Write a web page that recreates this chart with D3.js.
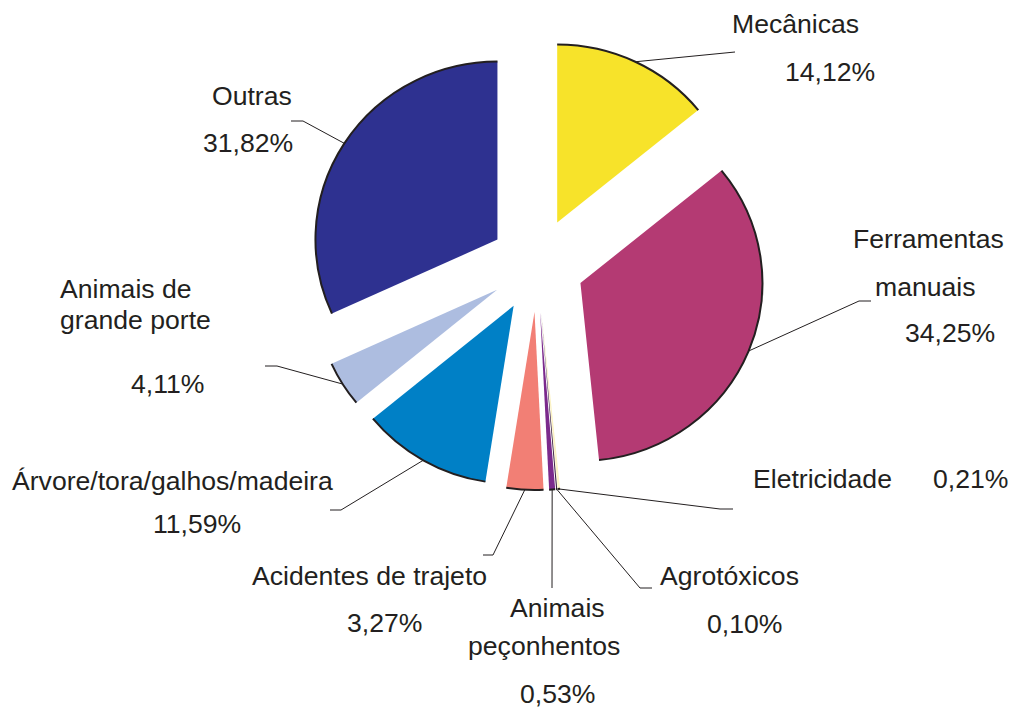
<!DOCTYPE html>
<html>
<head>
<meta charset="utf-8">
<script src="https://cdn.jsdelivr.net/npm/d3@7"></script>
<style>
  body { margin: 0; background: #fff; }
  text { font-family: "Liberation Sans", Arial, Helvetica, sans-serif; font-size: 26.6px; fill: #231f20; }
</style>
</head>
<body>
<div id="chart"></div>
<script>
// data
var categories = ["Mecânicas", "Ferramentas manuais", "Eletricidade", "Agrotóxicos",
    "Animais peçonhentos", "Acidentes de trajeto", "Árvore/tora/galhos/madeira",
    "Animais de grande porte", "Outras"];
var values = [14.12, 34.25, 0.21, 0.10, 0.53, 3.27, 11.59, 4.11, 31.82];
var valueLabels = ["14,12%", "34,25%", "0,21%", "0,10%", "0,53%", "3,27%", "11,59%", "4,11%", "31,82%"];
var colors = ["#f7e32a", "#b43a73", "#fbf2c4", "#3a1f3f", "#7b2a8c", "#f27f75", "#0080c6", "#adbde0", "#2e3190"];

// label layout: text lines [text, x, y] and leader bends
var labelLayout = [
    { lines: [["Mecânicas", 732, 33], ["14,12%", 785, 81]], bends: [[735, 52]] },
    { lines: [["Ferramentas", 853, 248], ["manuais", 875, 296], ["34,25%", 905, 342]], bends: [[859, 301], [871, 301]] },
    { lines: [["Eletricidade", 753, 488], ["0,21%", 933, 488]], bends: [[720, 509], [733, 509]] },
    { lines: [["Agrotóxicos", 660, 585], ["0,10%", 707, 633]], bends: [[640, 588], [652, 588]] },
    { lines: [["Animais", 510, 617], ["peçonhentos", 468, 655], ["0,53%", 520, 703]], bends: [[552, 588]] },
    { lines: [["Acidentes de trajeto", 252, 585], ["3,27%", 347, 632]], bends: [[493, 555], [483, 555]] },
    { lines: [["Árvore/tora/galhos/madeira", 12, 490], ["11,59%", 153, 533]], bends: [[341, 510], [330, 510]] },
    { lines: [["Animais de", 60, 298], ["grande porte", 60, 329], ["4,11%", 131, 393]], bends: [[277, 366], [265, 366]] },
    { lines: [["Outras", 212, 105], ["31,82%", 203, 152]], bends: [[303, 121], [291, 121]] }
];

var width = 1011, height = 708;
var cx = 537, cy = 265, rx = 182, ry = 178, explode = 47;

var svg = d3.select("#chart").append("svg")
    .attr("width", width)
    .attr("height", height);

var pie = d3.pie().sort(null).value(function(d) { return d; });
var arcs = pie(values);

var arc = d3.arc().innerRadius(0).outerRadius(ry);

var slices = svg.selectAll("g.slice")
    .data(arcs)
    .enter()
    .append("g")
    .attr("class", "slice")
    .attr("transform", function(d) {
        var mid = (d.startAngle + d.endAngle) / 2;
        return "translate(" + (cx + explode * Math.sin(mid)) + "," + (cy - explode * Math.cos(mid)) + ")";
    });

var inner = slices.append("g")
    .attr("transform", "scale(" + (rx / ry) + ",1)");

inner.append("path")
    .attr("d", arc)
    .attr("fill", function(d, i) { return colors[i]; });

// outer rim only
inner.append("path")
    .attr("d", function(d) {
        var p = d3.path();
        p.arc(0, 0, ry, d.startAngle - Math.PI / 2, d.endAngle - Math.PI / 2);
        return p.toString();
    })
    .attr("fill", "none")
    .attr("stroke", "#231f20")
    .attr("stroke-width", 2)
    .attr("vector-effect", "non-scaling-stroke");

// leader lines from the middle of each rim
arcs.forEach(function(d, i) {
    var mid = (d.startAngle + d.endAngle) / 2;
    var ox = cx + explode * Math.sin(mid) + rx * Math.sin(mid);
    var oy = cy - explode * Math.cos(mid) - ry * Math.cos(mid);
    var pts = [[ox, oy]].concat(labelLayout[i].bends);
    svg.append("path")
        .attr("d", d3.line()(pts))
        .attr("fill", "none")
        .attr("stroke", "#231f20")
        .attr("stroke-width", 1);

    labelLayout[i].lines.forEach(function(l) {
        svg.append("text")
            .attr("x", l[1])
            .attr("y", l[2])
            .text(l[0]);
    });
});
</script>
</body>
</html>
